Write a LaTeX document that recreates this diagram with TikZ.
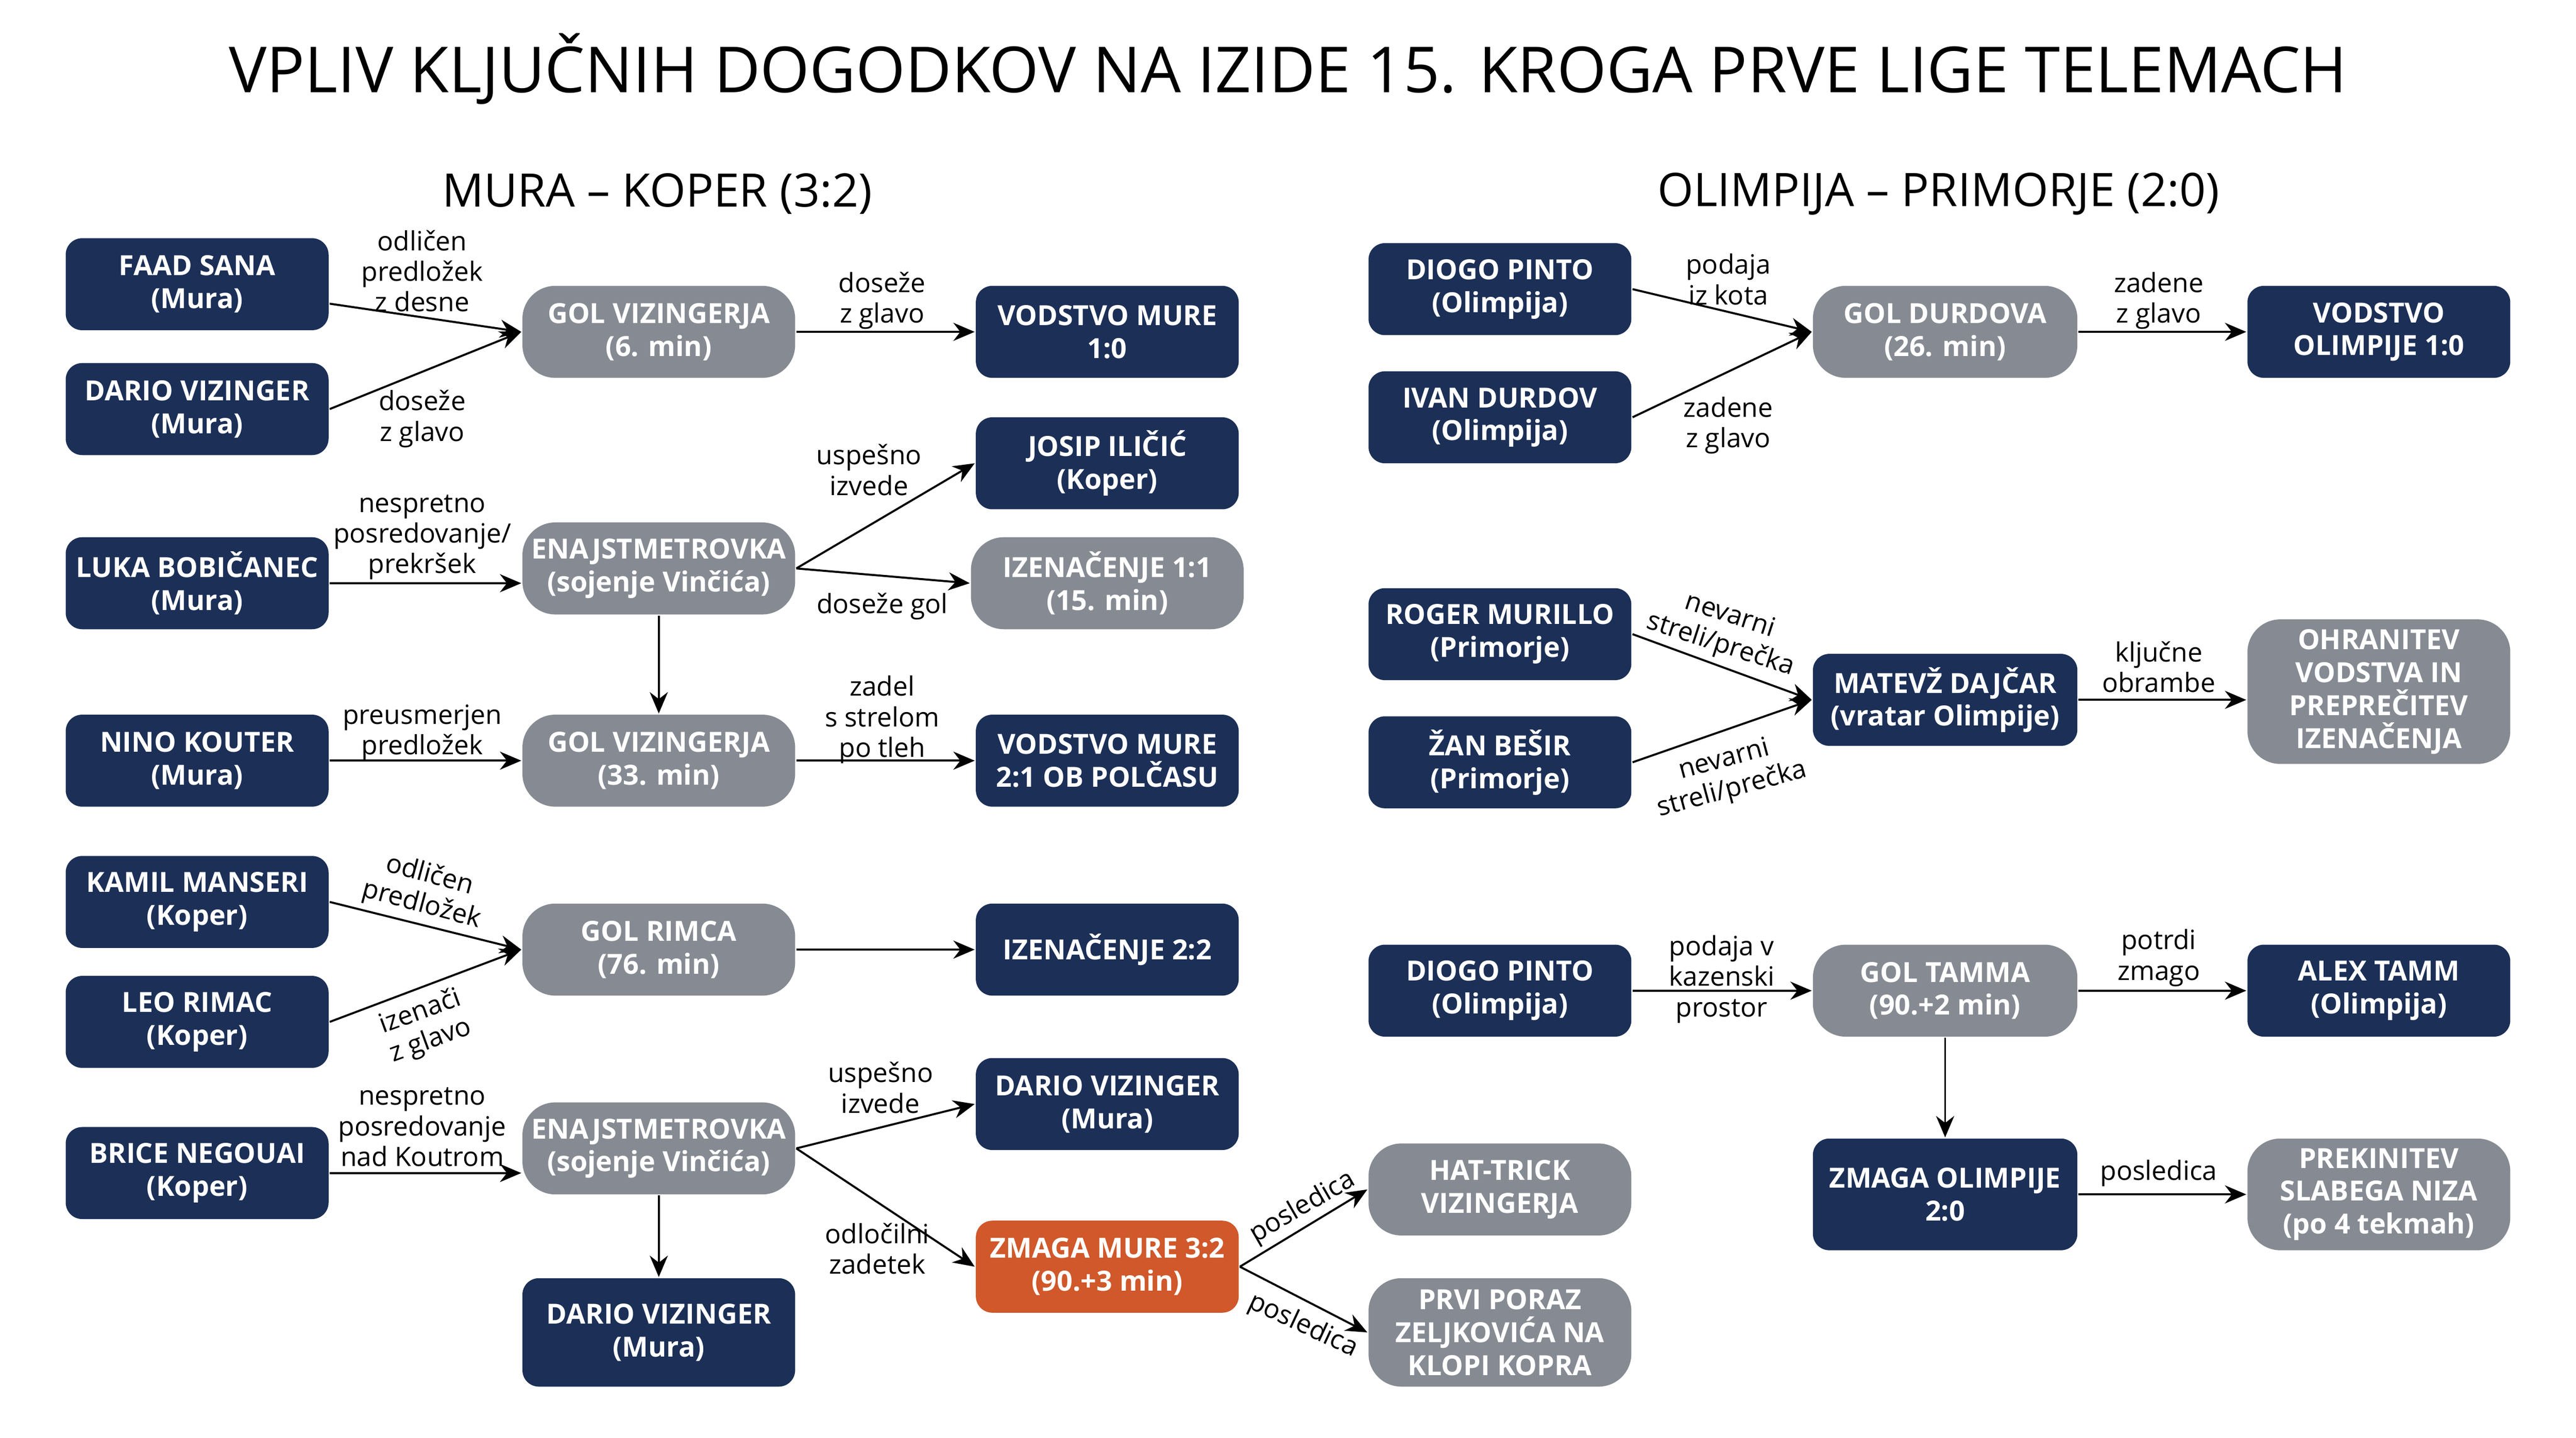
\documentclass[tikz,border=0pt]{standalone}
\usepackage{fontspec}
\setmainfont{Open Sans}
\usetikzlibrary{arrows.meta, positioning}
\definecolor{navy}{HTML}{1B2F57}
\definecolor{slate}{HTML}{868B93}
\definecolor{rust}{HTML}{D0582A}
\tikzset{
    navybox/.style={rectangle, rounded corners=1mm, fill=navy, text=white, minimum width=1.6cm, minimum height=0.56cm, align=center, font=\fontsize{4.8}{5.7}\selectfont\bfseries, inner sep=1pt},
    graybox/.style={navybox, rounded corners=2mm, fill=slate, minimum width=1.66cm},
    rustbox/.style={navybox, fill=rust},
    arrow/.style={-{Stealth[length=1.3mm,width=1.1mm]}, line width=0.35pt, black},
    lbl/.style={align=center, font=\fontsize{4.6}{5.3}\selectfont, text=black, inner sep=0.5pt}
}
\begin{document}
\begin{tikzpicture}[x=0.1mm, y=-0.1mm]
            \useasboundingbox (0,0) rectangle (1568,875);
            \node at (784,42) {\fontsize{11}{12}\selectfont VPLIV KLJUČNIH DOGODKOV NA IZIDE 15. KROGA PRVE LIGE TELEMACH};
            \node at (400,118) {\fontsize{8}{9}\selectfont MURA – KOPER (3:2)};
            \node at (1180,118) {\fontsize{8}{9}\selectfont OLIMPIJA – PRIMORJE (2:0)};
            
            % Mura - Koper
            \node (faad) [navybox] at (120,173) {FAAD SANA\\(Mura)};
            \node (dario1) [navybox] at (120,249) {DARIO VIZINGER\\(Mura)};
            \node (gol6) [graybox] at (401,202) {GOL VIZINGERJA\\(6. min)};
            \node (vod10) [navybox] at (674,202) {VODSTVO MURE\\1:0};
            \node (josip) [navybox] at (674,282) {JOSIP ILIČIĆ\\(Koper)};
            \node (luka) [navybox] at (120,355) {LUKA BOBIČANEC\\(Mura)};
            \node (pen1) [graybox] at (401,346) {ENAJSTMETROVKA\\(sojenje Vinčića)};
            \node (izen11) [graybox] at (674,355) {IZENAČENJE 1:1\\(15. min)};
            \node (nino) [navybox] at (120,463) {NINO KOUTER\\(Mura)};
            \node (gol33) [graybox] at (401,463) {GOL VIZINGERJA\\(33. min)};
            \node (vod21) [navybox] at (674,463) {VODSTVO MURE\\2:1 OB POLČASU};
            \node (kamil) [navybox] at (120,549) {KAMIL MANSERI\\(Koper)};
            \node (leo) [navybox] at (120,622) {LEO RIMAC\\(Koper)};
            \node (golr) [graybox] at (401,578) {GOL RIMCA\\(76. min)};
            \node (izen22) [navybox] at (674,578) {IZENAČENJE 2:2};
            \node (dario2) [navybox] at (674,672) {DARIO VIZINGER\\(Mura)};
            \node (brice) [navybox] at (120,714) {BRICE NEGOUAI\\(Koper)};
            \node (pen2) [graybox] at (401,699) {ENAJSTMETROVKA\\(sojenje Vinčića)};
            \node (zmagam) [rustbox] at (674,771) {ZMAGA MURE 3:2\\(90.+3 min)};
            \node (dario3) [navybox, minimum width=1.66cm, minimum height=0.66cm] at (401,811) {DARIO VIZINGER\\(Mura)};
            \node (hat) [graybox, minimum width=1.6cm] at (913,724) {HAT-TRICK\\VIZINGERJA};
            \node (poraz) [graybox, minimum width=1.6cm, minimum height=0.66cm] at (913,811) {PRVI PORAZ\\ZELJKOVIĆA NA\\KLOPI KOPRA};
            
            % Olimpija - Primorje
            \node (diogo1) [navybox] at (913,176) {DIOGO PINTO\\(Olimpija)};
            \node (ivan) [navybox] at (913,254) {IVAN DURDOV\\(Olimpija)};
            \node (gold) [graybox, minimum width=1.61cm] at (1184,202) {GOL DURDOVA\\(26. min)};
            \node (vodo) [navybox] at (1448,202) {VODSTVO\\OLIMPIJE 1:0};
            \node (roger) [navybox] at (913,386) {ROGER MURILLO\\(Primorje)};
            \node (zan) [navybox] at (913,464) {ŽAN BEŠIR\\(Primorje)};
            \node (matevz) [navybox, minimum width=1.61cm] at (1184,426) {MATEVŽ DAJČAR\\(vratar Olimpije)};
            \node (ohr) [graybox, minimum width=1.6cm, minimum height=0.88cm] at (1448,421) {OHRANITEV\\VODSTVA IN\\PREPREČITEV\\IZENAČENJA};
            \node (diogo2) [navybox] at (913,603) {DIOGO PINTO\\(Olimpija)};
            \node (golt) [graybox, minimum width=1.61cm] at (1184,603) {GOL TAMMA\\(90.+2 min)};
            \node (alex) [navybox] at (1448,603) {ALEX TAMM\\(Olimpija)};
            \node (zmagao) [navybox, minimum width=1.61cm, minimum height=0.68cm] at (1184,727) {ZMAGA OLIMPIJE\\2:0};
            \node (prek) [graybox, minimum width=1.6cm, minimum height=0.68cm] at (1448,727) {PREKINITEV\\SLABEGA NIZA\\(po 4 tekmah)};
            
            \draw[arrow] (faad) -- (gol6.west);
            \draw[arrow] (dario1.east) -- (gol6.west);
            \draw[arrow] (gol6) -- (vod10);
            \draw[arrow] (pen1.east) -- (josip.west);
            \draw[arrow] (luka) -- (pen1.west |- luka);
            \draw[arrow] (pen1.east) -- (izen11.west);
            \draw[arrow] (pen1) -- (gol33);
            \draw[arrow] (nino) -- (gol33);
            \draw[arrow] (gol33) -- (vod21);
            \draw[arrow] (kamil.east) -- (golr.west);
            \draw[arrow] (leo.east) -- (golr.west);
            \draw[arrow] (golr) -- (izen22);
            \draw[arrow] (brice.east) -- (pen2.west |- brice);
            \draw[arrow] (pen2.east) -- (dario2.west);
            \draw[arrow] (pen2.east) -- (zmagam.west);
            \draw[arrow] (pen2) -- (dario3);
            \draw[arrow] (zmagam.east) -- (hat.west);
            \draw[arrow] (zmagam.east) -- (poraz.west);
            
            \draw[arrow] (diogo1.east) -- (gold.west);
            \draw[arrow] (ivan.east) -- (gold.west);
            \draw[arrow] (gold) -- (vodo);
            \draw[arrow] (roger.east) -- (matevz.west);
            \draw[arrow] (zan.east) -- (matevz.west);
            \draw[arrow] (matevz) -- (matevz -| ohr.west);
            \draw[arrow] (diogo2) -- (golt);
            \draw[arrow] (golt) -- (alex);
            \draw[arrow] (golt) -- (zmagao);
            \draw[arrow] (zmagao) -- (prek);
            
            % labels
            \node[lbl] at (257,165) {odličen\\predložek\\z desne};
            \node[lbl] at (257,255) {doseže\\z glavo};
            \node[lbl] at (537,183) {doseže\\z glavo};
            \node[lbl] at (529,286) {uspešno\\izvede};
            \node[lbl] at (257,327) {nespretno\\posredovanje/\\prekršek};
            \node[lbl] at (537,369) {doseže gol};
            \node[lbl] at (257,446) {preusmerjen\\predložek};
            \node[lbl] at (537,438) {zadel\\s strelom\\po tleh};
            \node[lbl, rotate=-15] at (259,542) {odličen\\predložek};
            \node[lbl, rotate=20] at (259,625) {izenači\\z glavo};
            \node[lbl] at (536,662) {uspešno\\izvede};
            \node[lbl] at (257,686) {nespretno\\posredovanje\\nad Koutrom};
            \node[lbl] at (534,760) {odločilni\\zadetek};
            \node[lbl, rotate=30] at (793,735) {posledica};
            \node[lbl, rotate=-25] at (793,807) {posledica};
            \node[lbl] at (1052,170) {podaja\\iz kota};
            \node[lbl] at (1052,259) {zadene\\z glavo};
            \node[lbl] at (1314,183) {zadene\\z glavo};
            \node[lbl, rotate=-18] at (1050,384) {nevarni\\streli/prečka};
            \node[lbl, rotate=15] at (1052,472) {nevarni\\streli/prečka};
            \node[lbl] at (1314,406) {ključne\\obrambe};
            \node[lbl] at (1048,596) {podaja v\\kazenski\\prostor};
            \node[lbl] at (1314,583) {potrdi\\zmago};
            \node[lbl] at (1314,714) {posledica};
        \end{tikzpicture}
\end{document}
